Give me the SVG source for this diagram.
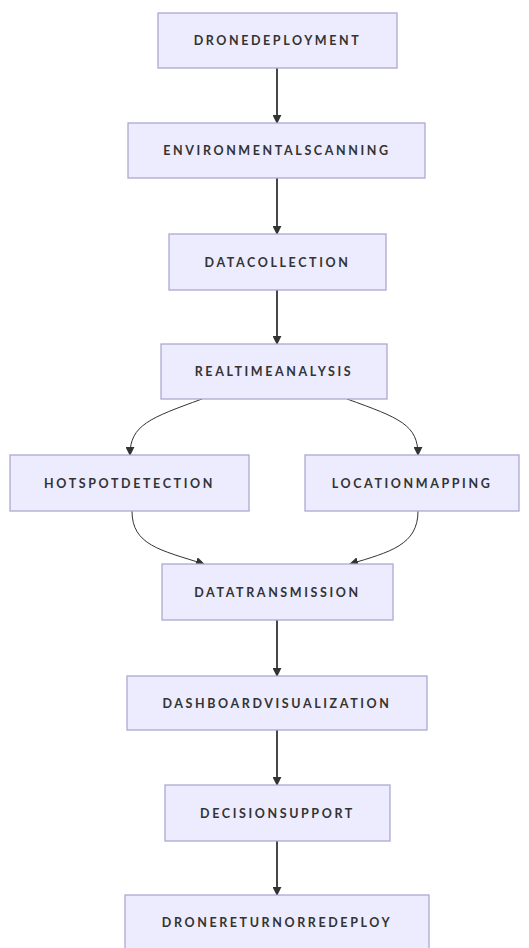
<svg xmlns="http://www.w3.org/2000/svg" width="529" height="948" viewBox="0 0 529 948">
<defs>
<style>
.n rect{fill:#ececfe;stroke:#aca8d0;stroke-width:1.3}
.n text{font-family:Lato,"Open Sans",sans-serif;font-weight:700;font-size:12.5px;letter-spacing:2.6px;fill:#333;text-anchor:middle;dominant-baseline:central}
.e path{fill:none;stroke:#333}
.s{stroke-width:1.8}
.c{stroke-width:1}
</style>
<marker id="ah" viewBox="0 0 10 10" refX="9" refY="5" markerWidth="9" markerHeight="9" markerUnits="userSpaceOnUse" orient="auto">
<path d="M0,0 L10,5 L0,10 z" fill="#333"/>
</marker>
</defs>
<rect width="529" height="948" fill="#fff"/>
<g class="e" id="connectors">
<path class="s" d="M277,68 V123" marker-end="url(#ah)"/>
<path class="s" d="M277,178 V234" marker-end="url(#ah)"/>
<path class="s" d="M277,290 V344" marker-end="url(#ah)"/>
<path class="c" d="M202,399 C150,418 130,425 130,455" marker-end="url(#ah)"/>
<path class="c" d="M347,399 C400,418 418,425 418,455" marker-end="url(#ah)"/>
<path class="c" d="M132,511 C132,545 160,550 204,564" marker-end="url(#ah)"/>
<path class="c" d="M418,511 C418,545 390,552 350,564" marker-end="url(#ah)"/>
<path class="s" d="M277,620 V676" marker-end="url(#ah)"/>
<path class="s" d="M277,730 V785" marker-end="url(#ah)"/>
<path class="s" d="M277,841 V895" marker-end="url(#ah)"/>
</g>
<g class="n" id="DroneDeployment"><rect x="158" y="13" width="239" height="55"/><text x="277.5" y="40.5">DRONEDEPLOYMENT</text></g>
<g class="n" id="EnvironmentalScanning"><rect x="128" y="123" width="297" height="55"/><text x="277" y="150.5">ENVIRONMENTALSCANNING</text></g>
<g class="n" id="DataCollection"><rect x="169" y="234" width="217" height="56"/><text x="277.5" y="262">DATACOLLECTION</text></g>
<g class="n" id="RealtimeAnalysis"><rect x="161" y="344" width="226" height="55"/><text x="274" y="371.5">REALTIMEANALYSIS</text></g>
<g class="n" id="HotspotDetection"><rect x="10" y="455" width="239" height="56"/><text x="129.5" y="483">HOTSPOTDETECTION</text></g>
<g class="n" id="LocationMapping"><rect x="305" y="455" width="214" height="56"/><text x="412" y="483">LOCATIONMAPPING</text></g>
<g class="n" id="DataTransmission"><rect x="162" y="564" width="231" height="56"/><text x="277.5" y="592">DATATRANSMISSION</text></g>
<g class="n" id="DashboardVisualization"><rect x="127" y="676" width="300" height="54"/><text x="277" y="703">DASHBOARDVISUALIZATION</text></g>
<g class="n" id="DecisionSupport"><rect x="165" y="785" width="225" height="56"/><text x="277.5" y="813">DECISIONSUPPORT</text></g>
<g class="n" id="DroneReturnOrRedeploy"><rect x="125" y="895" width="304" height="55"/><text x="277" y="922.5">DRONERETURNORREDEPLOY</text></g>
</svg>
